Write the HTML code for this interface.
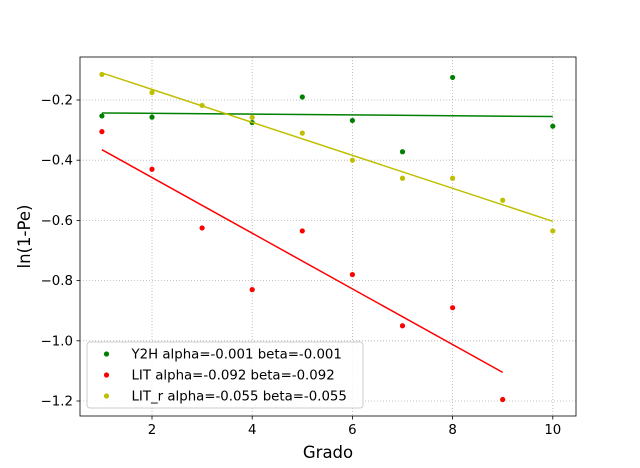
<!DOCTYPE html>
<html><head><meta charset="utf-8"><style>body{margin:0;background:#fff}svg{display:block;font-family:"DejaVu Sans","Liberation Sans",sans-serif}</style></head>
<body>
<svg id="chart" width="640" height="468" viewBox="0 0 640 468"></svg>
<script>
const xTicks=[2,4,6,8,10];
const yTicks=[-0.2,-0.4,-0.6,-0.8,-1.0,-1.2];
const yTickLabels=["\u22120.2","\u22120.4","\u22120.6","\u22120.8","\u22121.0","\u22121.2"];
const y2hX=[1,2,4,5,6,7,8,10];
const y2hY=[-0.253,-0.257,-0.275,-0.19,-0.268,-0.372,-0.125,-0.287];
const y2hFit=[[1,-0.243],[10,-0.255]];
const litX=[1,2,3,4,5,6,7,8,9];
const litY=[-0.305,-0.43,-0.625,-0.83,-0.635,-0.78,-0.95,-0.89,-1.195];
const litFit=[[1,-0.365],[9,-1.105]];
const litrX=[1,2,3,4,5,6,7,8,9,10];
const litrY=[-0.115,-0.175,-0.218,-0.258,-0.31,-0.4,-0.46,-0.46,-0.533,-0.635];
const litrFit=[[1,-0.11],[10,-0.603]];
const legendLabels=["Y2H alpha=-0.001 beta=-0.001","LIT alpha=-0.092 beta=-0.092","LIT_r alpha=-0.055 beta=-0.055"];

const L=80,R=576,T=57,B=416;
const sx=v=>51.8+v*50.1;
const sy=v=>39.8-v*301;
const svg=document.getElementById('chart');
const NS='http://www.w3.org/2000/svg';
function mk(tag,attrs,parent){const e=document.createElementNS(NS,tag);for(const k in attrs)e.setAttribute(k,attrs[k]);(parent||svg).appendChild(e);return e;}

xTicks.forEach(v=>{
  const g=mk('line',{x1:sx(v),x2:sx(v),y1:T,y2:B,stroke:'#b0b0b0','stroke-width':0.8,'stroke-dasharray':'1,2'});
  
  
  const t=mk('line',{x1:sx(v),x2:sx(v),y1:B,y2:B+3.5,stroke:'#000','stroke-width':0.8});
  
  
  const l=mk('text',{x:sx(v),y:B+18,'text-anchor':'middle','font-size':13.33});
  l.textContent=v;
  
  
});
yTicks.forEach((v,i)=>{
  const g=mk('line',{x1:L,x2:R,y1:sy(v),y2:sy(v),stroke:'#b0b0b0','stroke-width':0.8,'stroke-dasharray':'1,2'});
  
  
  const t=mk('line',{x1:L-3.5,x2:L,y1:sy(v),y2:sy(v),stroke:'#000','stroke-width':0.8});
  
  
  const l=mk('text',{x:L-7,y:sy(v)+4.5,'text-anchor':'end','font-size':13.33});
  l.textContent=yTickLabels[i];
  
  
});

function series(xs,ys,fit,color,name){
  const ln=mk('line',{x1:sx(fit[0][0]),y1:sy(fit[0][1]),x2:sx(fit[1][0]),y2:sy(fit[1][1]),stroke:color,'stroke-width':1.5});
  
  
  xs.forEach((x,i)=>{
    const c=mk('circle',{cx:sx(x),cy:sy(ys[i]),r:2.6,fill:color});
    
    
  });
}
series(y2hX,y2hY,y2hFit,'#008000','y2h');
series(litX,litY,litFit,'#ff0000','lit');
series(litrX,litrY,litrFit,'#bfbf00','lit-r');

const frame=mk('rect',{x:L,y:T,width:R-L,height:B-T,fill:'none',stroke:'#000','stroke-width':0.8});



const xl=mk('text',{x:(L+R)/2,y:458,'text-anchor':'middle','font-size':16.5});
xl.textContent='Grado';


const yl=mk('text',{x:0,y:0,'text-anchor':'middle','font-size':16.5,transform:'translate(30,'+((T+B)/2)+') rotate(-90)'});
yl.textContent='ln(1-Pe)';



const lg=mk('g',{});


mk('rect',{x:87,y:342,width:276,height:66,rx:3,fill:'#fff','fill-opacity':0.8,stroke:'#ccc'},lg);
const colors=['#008000','#ff0000','#bfbf00'];
legendLabels.forEach((s,i)=>{
  const y=354+i*21;
  const c=mk('circle',{cx:106.5,cy:y,r:2.6,fill:colors[i]},lg);
  
  
  const t=mk('text',{x:131.5,y:y+4.5,'font-size':13.33},lg);
  t.textContent=s;
  
  
});
</script>
</body></html>
